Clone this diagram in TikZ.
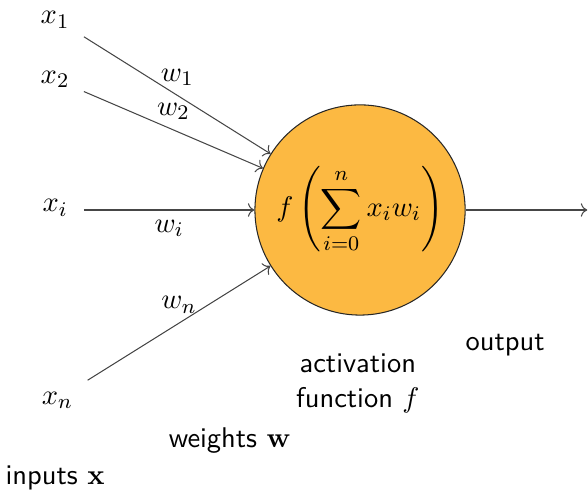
\documentclass[tikz,border=0pt,11pt]{standalone}
\usepackage{amsmath, amssymb}
\usepackage{bm}
\usepackage{xcolor}
\usepackage{tikz}
\usetikzlibrary{
  positioning,
  arrows.meta
}
\definecolor{NeuronOrange}{RGB}{252,185,66}
\definecolor{WireGray}{RGB}{70,70,70}

\begin{document}
\begin{tikzpicture}[
  neuron/.style={
    circle,
    draw=black!85,
    fill=NeuronOrange,
    minimum size=2.84cm,
    inner sep=0pt
  },
  arr/.style={->, draw=WireGray},
  wt/.style={midway, text=black},
  txt/.style={font=\sffamily, align=center},
]
  \useasboundingbox (-4.864,-3.837) rectangle (3.08,2.837);

  % ========== 神经元 ==========
  \node[neuron] (neuron) at (0,0)
    {$\displaystyle f\left(\sum_{i=0}^{n} x_i w_i\right)$};

  % ========== 输入端点与标签 ==========
  \coordinate (in1) at (-3.73,2.34);
  \coordinate (in2) at (-3.73,1.60);
  \coordinate (ini) at (-3.73,0);
  \coordinate (inn) at (-3.68,-2.30);
  \node (lx1) at (-4.12,2.57) {$x_1$};
  \node (lx2) at (-4.12,1.76) {$x_2$};
  \node (lxi) at (-4.12,0.03) {$x_i$};
  \node (lxn) at (-4.09,-2.57) {$x_n$};

  % ========== 加权连线 ==========
  \draw[arr] (in1) -- node[wt, above] {$w_1$} (neuron);
  \draw[arr] (in2) -- node[wt, above] {$w_2$} (neuron);
  \draw[arr] (ini) -- node[wt, below] {$w_i$} (neuron);
  \draw[arr] (inn) -- node[wt, above] {$w_n$} (neuron);

  % ========== 输出 ==========
  \coordinate (out) at (3.07,0);
  \draw[arr] (neuron) -- (out);

  % ========== 说明文字 ==========
  \node[txt] (outlab) at (1.96,-1.82) {output};
  \node[txt] (actlab) at (-0.03,-2.34) {activation\\function $f$};
  \node[txt] (wlab) at (-1.76,-3.11) {weights $\mathbf{w}$};
  \node[txt] (xlab) at (-4.12,-3.62) {inputs $\mathbf{x}$};

\end{tikzpicture}
\end{document}
